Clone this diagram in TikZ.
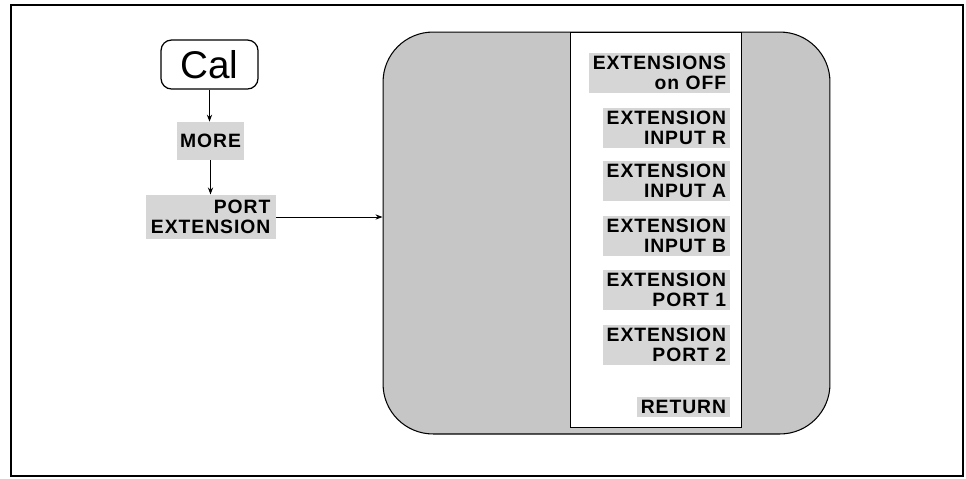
\documentclass[tikz,border=0pt]{standalone}
\usepackage{fontspec}
\setmainfont{Liberation Sans}
\newfontfamily\keyfont[LetterSpace=5]{Liberation Sans}
\usetikzlibrary{arrows.meta, positioning}
\usepackage{xcolor}
\definecolor{kgray}{HTML}{D6D6D6}
\definecolor{mgray}{HTML}{C6C6C6}

\begin{document}
\begin{tikzpicture}[x=0.02cm, y=-0.02cm,
    softkey/.style={rectangle, fill=kgray, inner sep=2pt, align=right,
                    font=\keyfont\bfseries\fontsize{11}{11.5}\selectfont},
    hardkey/.style={rectangle, rounded corners=6pt, draw=black, line width=0.7pt,
                    minimum width=1.94cm, minimum height=0.98cm,
                    font=\fontsize{22}{24}\selectfont},
    arrow/.style={-{Stealth[length=4pt, width=3pt]}, line width=0.5pt, black}
  ]
    \useasboundingbox (0,0) rectangle (966,478);
    \draw[line width=1.2pt] (11,5) rectangle (963,476);

    % menu area with the softkey column
    \node[rectangle, rounded corners=1cm, draw=black, line width=0.6pt, fill=mgray,
          minimum width=8.94cm, minimum height=8.04cm] (menu) at (606.5,233) {};
    \node[rectangle, draw=black, line width=0.5pt, fill=white,
          minimum width=3.42cm, minimum height=7.9cm] (panel) at (655.5,229.5) {};

    \node[softkey, anchor=east] (extonoff) at (730,73) {EXTENSIONS\\on OFF};
    \node[softkey, anchor=east] (extr) at (730,128) {EXTENSION\\INPUT R};
    \node[softkey, anchor=east] (exta) at (730,181) {EXTENSION\\INPUT A};
    \node[softkey, anchor=east] (extb) at (730,236) {EXTENSION\\INPUT B};
    \node[softkey, anchor=east] (extp1) at (730,290) {EXTENSION\\PORT 1};
    \node[softkey, anchor=east] (extp2) at (730,345) {EXTENSION\\PORT 2};
    \node[softkey, anchor=east] (ret) at (730,407) {RETURN};

    % key path
    \node[hardkey] (cal) at (209.5,64.5) {Cal};
    \node[softkey, align=center, minimum width=1.3cm, minimum height=0.76cm] (more) at (210.5,141) {MORE};
    \node[softkey, anchor=east, inner sep=3pt] (portext) at (276,217) {PORT\\EXTENSION};

    \draw[arrow] (cal.south) -- (cal.south |- more.north);
    \draw[arrow] (more.south) -- (more.south |- portext.north);
    \draw[arrow] (portext.east) -- (portext.east -| menu.west);
  \end{tikzpicture}
\end{document}
